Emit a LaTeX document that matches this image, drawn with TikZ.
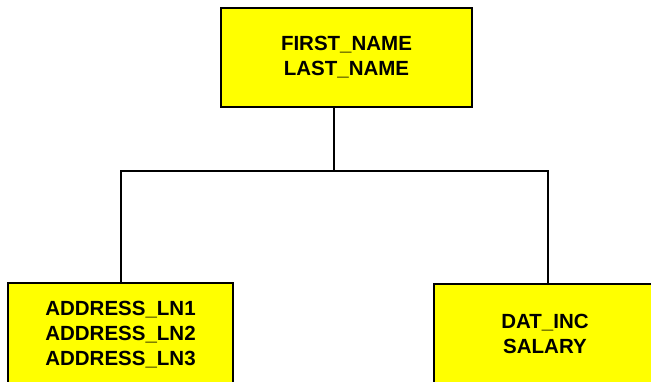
\documentclass[tikz,border=0pt]{standalone}
\usepackage{fontspec}
\setmainfont{Liberation Sans}
\definecolor{boxyellow}{RGB}{255,255,0}
\begin{document}
\begin{tikzpicture}[x=1pt,y=1pt,
  entity/.style={draw=black, fill=boxyellow, line width=1.6pt, inner sep=0pt,
    align=center, font=\bfseries\fontsize{20.5}{25}\selectfont},
  link/.style={draw=black, line width=1.3pt}]
  \useasboundingbox (0,0) rectangle (651,-381);
  \clip (0,0) rectangle (651,-381);
  \fill[white] (0,0) rectangle (651,-381);

  % entity boxes
  \node[entity, minimum width=251pt, minimum height=99pt] (top) at (346.5,-57.5)
    {FIRST\_NAME\\LAST\_NAME};
  \node[entity, minimum width=225pt, minimum height=104pt] (left) at (120.5,-335)
    {ADDRESS\_LN1\\ADDRESS\_LN2\\ADDRESS\_LN3};
  \node[entity, minimum width=222pt, minimum height=100pt] (right) at (545,-334)
    {DAT\_INC\\SALARY};

  % tree connectors
  \coordinate (hub) at (334,-171);
  \coordinate (lbend) at (121,-171);
  \coordinate (rbend) at (548,-171);
  \draw[link] (top.south -| hub) -- (hub);
  \draw[link] (left.north -| lbend) -- (lbend) -- (rbend) -- (right.north -| rbend);
\end{tikzpicture}
\end{document}
